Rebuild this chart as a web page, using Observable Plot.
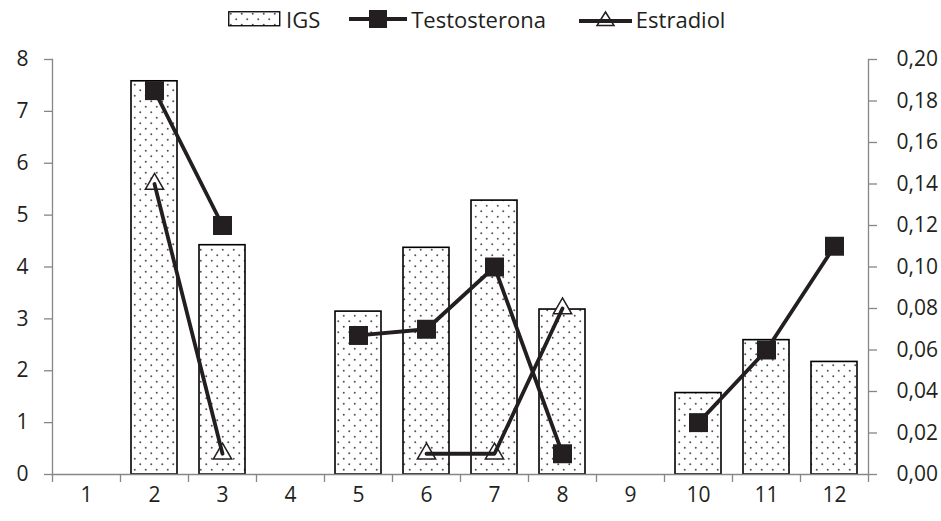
<!DOCTYPE html>
<html>
<head>
<meta charset="utf-8">
<script src="https://cdn.jsdelivr.net/npm/d3@7"></script>
<script src="https://cdn.jsdelivr.net/npm/@observablehq/plot@0.6"></script>
<style>
  html, body { margin: 0; padding: 0; background: #fff; }
  body { width: 941px; height: 521px; overflow: hidden; font-family: "Open Sans", sans-serif; color: #231f20; }
  #legend { height: 38px; display: flex; align-items: center; padding-left: 228px; font-size: 22px; box-sizing: border-box; }
  #legend .item { display: flex; align-items: center; }
  #legend svg { display: block; }
</style>
</head>
<body>
<div id="legend"></div>
<div id="chart"></div>
<script>
// ---- data ----
const categories = [1, 2, 3, 4, 5, 6, 7, 8, 9, 10, 11, 12];
const igs          = [null, 7.58, 4.42, null, 3.14, 4.37, 5.28, 3.18, null, 1.57, 2.59, 2.17];
const testosterona = [null, 0.185, 0.12, null, 0.067, 0.07, 0.10, 0.01, null, 0.025, 0.06, 0.11];
const estradiol    = [null, 0.14, 0.01, null, null, 0.01, 0.01, 0.08, null, null, null, null];
const leftTicks  = [0, 1, 2, 3, 4, 5, 6, 7, 8];
const rightTicks = [0, 0.02, 0.04, 0.06, 0.08, 0.10, 0.12, 0.14, 0.16, 0.18, 0.20];
const seriesNames = ["IGS", "Testosterona", "Estradiol"];

const ratio = 8 / 0.20; // secondary axis mapped onto primary
const data = categories.map((c, i) => ({
  cat: String(c),
  igs: igs[i],
  testo: testosterona[i] == null ? null : testosterona[i] * ratio,
  estra: estradiol[i] == null ? null : estradiol[i] * ratio
}));

const ink = "#231f20";
const axisGray = "#868686";
const W = 941, H = 483;

const plot = Plot.plot({
  width: W,
  height: H,
  marginLeft: 52,
  marginRight: 73,
  marginTop: 21,
  marginBottom: 47,
  style: { fontFamily: "Open Sans, sans-serif", fontSize: "21px", color: ink, background: "#fff", overflow: "visible" },
  x: { type: "band", domain: categories.map(String), padding: 0, axis: null, label: null },
  y: { domain: [0, 8], axis: null, label: null },
  marks: [
    Plot.barY(data.filter(d => d.igs != null), {
      x: "cat", y: "igs", fill: "url(#dots)", stroke: "#000", strokeWidth: 1.6, insetLeft: 11, insetRight: 11
    }),
    // axis lines
    Plot.frame({ anchor: "left", stroke: axisGray, strokeWidth: 1.3 }),
    Plot.frame({ anchor: "right", stroke: axisGray, strokeWidth: 1.3 }),
    Plot.frame({ anchor: "bottom", stroke: axisGray, strokeWidth: 1.3 }),
    // left axis
    Plot.axisY({ anchor: "left", ticks: leftTicks, tickSize: 8, tickPadding: 16, stroke: axisGray, tickFormat: d => String(d), fill: ink, strokeWidth: 1.3, label: null }),
    // right axis (secondary)
    Plot.axisY({ anchor: "right", ticks: rightTicks.map(v => v * ratio), tickSize: 8, tickPadding: 20, stroke: axisGray, strokeWidth: 1.3,
      tickFormat: d => (d / ratio).toFixed(2).replace(".", ","), fill: ink, label: null }),
    // x axis boundary ticks
    Plot.axisX({ ticks: categories.map(String), tickSize: 8, dx: -34, tickFormat: () => "", stroke: axisGray, strokeWidth: 1.3, label: null }),
    Plot.axisX({ ticks: [String(categories[categories.length - 1])], tickSize: 8, dx: 34, tickFormat: () => "", stroke: axisGray, strokeWidth: 1.3, label: null }),
    // x labels
    Plot.axisX({ ticks: categories.map(String), tickSize: 0, tickPadding: 13, fill: ink, label: null }),
    // Estradiol
    Plot.dot(data, { x: "cat", y: "estra", symbol: "triangle", r: 6.8, fill: "#fff", stroke: ink, strokeWidth: 1.5 }),
    Plot.lineY(data, { x: "cat", y: "estra", stroke: ink, strokeWidth: 3.8 }),
    // Testosterona
    Plot.lineY(data, { x: "cat", y: "testo", stroke: ink, strokeWidth: 3.8 }),
    Plot.dot(data, { x: "cat", y: "testo", symbol: "square", r: 10.7, fill: ink, stroke: "none" })
  ]
});

const patternDef = `
  <pattern id="dots" patternUnits="userSpaceOnUse" width="11" height="11">
    <rect width="11" height="11" fill="#fff"></rect>
    <circle cx="2.75" cy="2.75" r="1" fill="#555"></circle>
    <circle cx="8.25" cy="8.25" r="1" fill="#555"></circle>
  </pattern>`;
d3.select(plot).insert("defs", ":first-child").html(patternDef);
document.getElementById("chart").appendChild(plot);

// ---- legend ----
const legend = d3.select("#legend");
const it1 = legend.append("div").attr("class", "item");
const s1 = it1.append("svg").attr("width", 53).attr("height", 16);
s1.append("rect").attr("x", 0.75).attr("y", 0.75).attr("width", 51).attr("height", 14)
  .attr("fill", "url(#dots)").attr("stroke", "#000").attr("stroke-width", 1.3);
it1.append("span").text(seriesNames[0]).style("margin-left", "5px");

const it2 = legend.append("div").attr("class", "item").style("margin-left", "29px");
const s2 = it2.append("svg").attr("width", 58).attr("height", 20);
s2.append("line").attr("x1", 0).attr("x2", 58).attr("y1", 10).attr("y2", 10).attr("stroke", ink).attr("stroke-width", 3.8).attr("stroke-linecap", "round");
s2.append("rect").attr("x", 20).attr("y", 1).attr("width", 18).attr("height", 18).attr("fill", ink);
it2.append("span").text(seriesNames[1]).style("margin-left", "4px");

const it3 = legend.append("div").attr("class", "item").style("margin-left", "33px");
const s3 = it3.append("svg").attr("width", 53).attr("height", 20);
s3.append("path").attr("d", "M26.5,3 L35,16.5 L18,16.5 Z").attr("fill", "#fff").attr("stroke", ink).attr("stroke-width", 1.5);
s3.append("line").attr("x1", 0).attr("x2", 53).attr("y1", 12).attr("y2", 12).attr("stroke", ink).attr("stroke-width", 3.8).attr("stroke-linecap", "round");
it3.append("span").text(seriesNames[2]).style("margin-left", "4px");
</script>
</body>
</html>
